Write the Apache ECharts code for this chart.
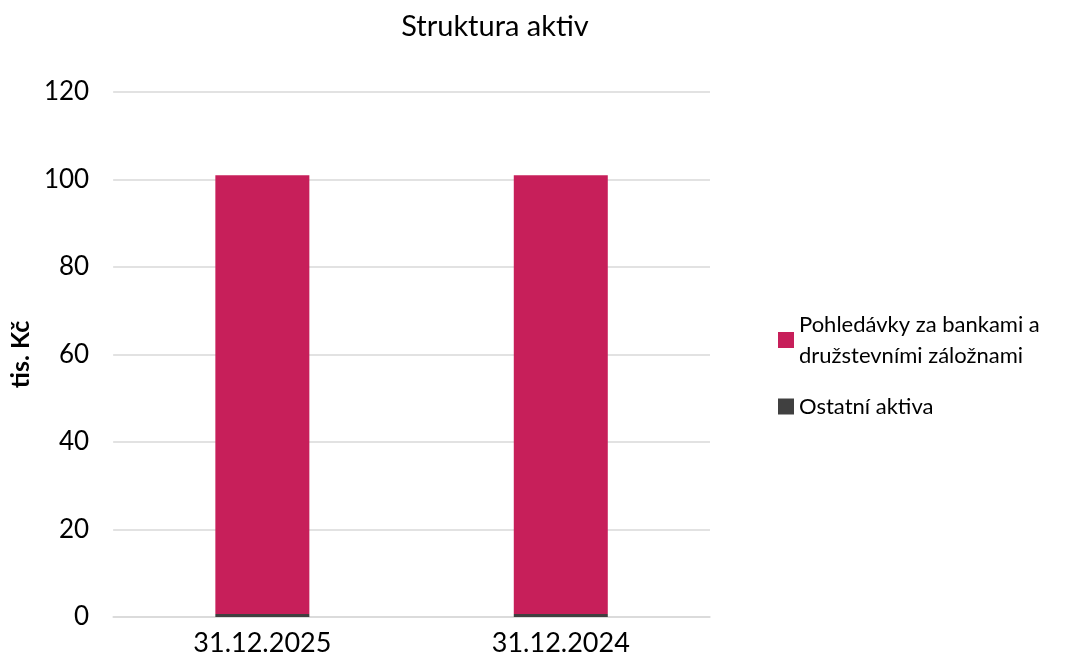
<!DOCTYPE html>
<html>
<head>
<meta charset="utf-8">
<script src="https://cdn.jsdelivr.net/npm/echarts@6/dist/echarts.min.js"></script>
<style>
  html, body { margin: 0; padding: 0; background: #fff; }
  #chart { width: 1076px; height: 664px; }
</style>
</head>
<body>
<div id="chart"></div>
<script>
  var categories = ['31.12.2025', '31.12.2024'];
  var ostatniAktiva = [0.7, 0.7];
  var pohledavky = [100.3, 100.3];
  var yTicks = [0, 20, 40, 60, 80, 100, 120];

  var chart = echarts.init(document.getElementById('chart'));
  var font = 'Lato, "Open Sans", sans-serif';
  var option = {
    animation: false,
    textStyle: { fontFamily: font },
    title: {
      text: 'Struktura aktiv',
      left: 490,
      textAlign: 'center',
      top: 7,
      textStyle: { fontSize: 29, fontWeight: 'normal', color: '#000', fontFamily: font }
    },
    legend: {
      orient: 'vertical',
      left: 773,
      top: 304,
      itemWidth: 16,
      itemHeight: 16,
      itemGap: 20,
      icon: 'rect',
      data: ['Pohledávky za bankami a\ndružstevními záložnami', 'Ostatní aktiva'],
      textStyle: { fontSize: 22, color: '#000', lineHeight: 31, fontFamily: font }
    },
    grid: { left: 112, right: 366, top: 92, bottom: 47 },
    xAxis: {
      type: 'category',
      data: categories,
      axisTick: { show: false },
      axisLine: { lineStyle: { color: '#d9d9d9', width: 1.5 } },
      axisLabel: { fontSize: 27, color: '#000', margin: 13, fontFamily: font }
    },
    yAxis: {
      type: 'value',
      min: yTicks[0],
      max: yTicks[yTicks.length - 1],
      interval: 20,
      name: 'tis. Kč',
      nameLocation: 'middle',
      nameGap: 64,
      nameTextStyle: { fontSize: 25, fontWeight: 'bold', color: '#000', fontFamily: font },
      axisLine: { show: false },
      axisTick: { show: false },
      axisLabel: { fontSize: 26, color: '#000', margin: 24, fontFamily: font },
      splitLine: { lineStyle: { color: '#d9d9d9', width: 1.5 } }
    },
    series: [
      {
        name: 'Ostatní aktiva',
        type: 'bar',
        stack: 'a',
        barWidth: '31.5%',
        itemStyle: { color: '#404040' },
        data: ostatniAktiva
      },
      {
        name: 'Pohledávky za bankami a\ndružstevními záložnami',
        type: 'bar',
        stack: 'a',
        itemStyle: { color: '#c71f5a' },
        data: pohledavky
      }
    ]
  };
  chart.setOption(option);
</script>
</body>
</html>
